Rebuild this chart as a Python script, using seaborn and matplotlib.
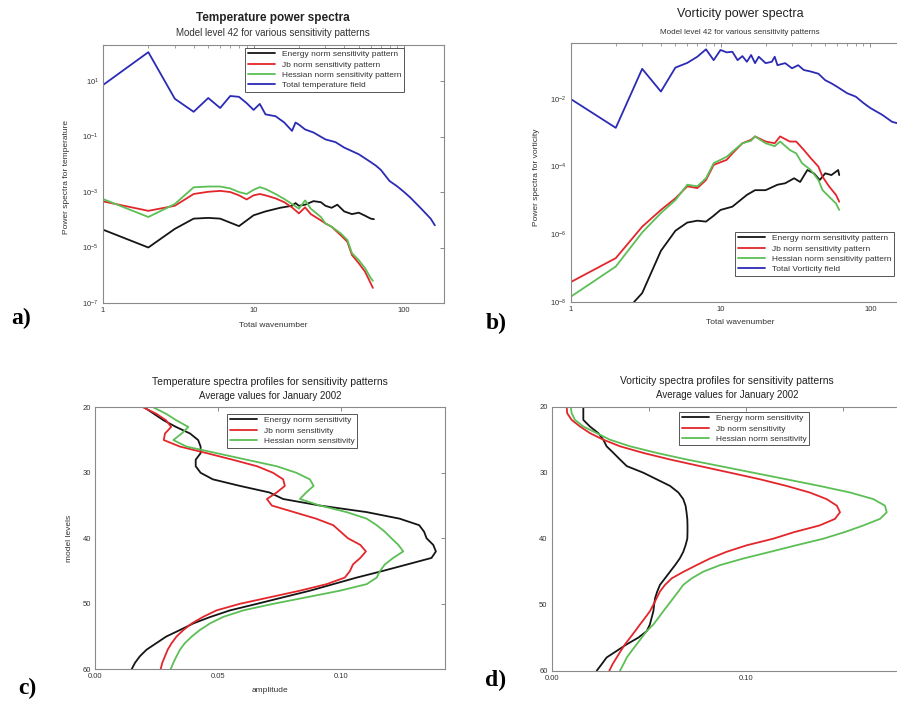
import matplotlib
matplotlib.use("Agg")
import matplotlib.pyplot as plt
import pandas as pd
import seaborn as sns
from matplotlib.ticker import FixedLocator, FixedFormatter, NullLocator, NullFormatter, LogLocator

# ---------------- data ----------------
series_spec = ["Energy norm sensitivity pattern", "Jb norm sensitivity pattern",
               "Hessian norm sensitivity pattern"]
series_prof = ["Energy norm sensitivity", "Jb norm sensitivity", "Hessian norm sensitivity"]
total_a_label = "Total temperature field"
total_b_label = "Total Vorticity field"

# (a) Temperature power spectra, model level 42
a_total_wn = [1, 2, 3, 4, 5, 6, 7, 8, 9, 10, 11, 12, 14, 16, 18, 19, 20, 22, 25, 30, 35, 40,
              50, 60, 65, 70, 80, 90, 100, 110, 130, 150, 160]
a_total = [7.2, 110, 2.3, 0.78, 2.45, 1.07, 2.9, 2.7, 1.6, 0.91, 1.5, 0.63, 0.54, 0.32, 0.16,
           0.32, 0.27, 0.18, 0.14, 0.079, 0.063, 0.040, 0.023, 0.012, 0.0089, 0.0063, 0.0025,
           0.0016, 0.0010, 6.3e-4, 2.5e-4, 1.1e-4, 6.3e-5]
a_energy_wn = [1, 2, 3, 4, 5, 6, 8, 10, 12, 15, 18, 19, 20, 22, 25, 28, 30, 33, 36, 40, 45, 50,
               55, 60, 63]
a_energy = [4.4e-5, 1.0e-5, 4.7e-5, 1.1e-4, 1.17e-4, 1.1e-4, 5.9e-5, 1.45e-4, 2.0e-4, 2.7e-4,
            3.2e-4, 4.0e-4, 3.2e-4, 3.5e-4, 4.7e-4, 4.3e-4, 3.2e-4, 2.7e-4, 3.5e-4, 2.0e-4,
            1.6e-4, 1.8e-4, 1.4e-4, 1.1e-4, 1.05e-4]
a_jb_wn = [1, 2, 3, 4, 5, 6, 7, 8, 9, 10, 11, 12, 14, 16, 18, 20, 22, 24, 28, 30, 33, 38, 42,
           45, 50, 55, 60, 62]
a_jb = [4.6e-4, 2.1e-4, 3.2e-4, 8.5e-4, 1.02e-3, 1.1e-3, 1.0e-3, 7.6e-4, 5.4e-4, 7.6e-4,
        8.5e-4, 7.6e-4, 5.9e-4, 4.3e-4, 2.8e-4, 1.7e-4, 2.8e-4, 1.6e-4, 9.5e-5, 7.4e-5,
        5.6e-5, 2.75e-5, 1.6e-5, 5.4e-6, 2.7e-6, 1.35e-6, 5.1e-7, 3.5e-7]
a_hess_wn = a_jb_wn
a_hess = [5.6e-4, 1.26e-4, 3.7e-4, 1.48e-3, 1.58e-3, 1.58e-3, 1.35e-3, 1.0e-3, 8.5e-4, 1.2e-3,
          1.5e-3, 1.29e-3, 8.5e-4, 5.6e-4, 3.7e-4, 2.5e-4, 5.0e-4, 2.5e-4, 1.26e-4, 7.4e-5,
          5.6e-5, 3.2e-5, 1.86e-5, 6.3e-6, 3.5e-6, 1.8e-6, 7.9e-7, 6.3e-7]

# (b) Vorticity power spectra, model level 42
b_total_wn = [1, 2, 3, 4, 5, 6, 7, 8, 9, 10, 11, 12, 13, 14, 15, 16, 17, 18, 20, 22, 23, 24,
              27, 30, 33, 36, 40, 45, 50, 55, 60, 70, 80, 90, 100, 120, 140, 160]
b_total = [1.0e-2, 1.4e-3, 7.8e-2, 1.66e-2, 8.5e-2, 0.117, 0.178, 0.295, 0.141, 0.282, 0.24,
           0.25, 0.141, 0.186, 0.126, 0.2, 0.115, 0.178, 0.115, 0.126, 0.178, 0.1, 0.115,
           0.081, 0.1, 0.072, 0.065, 0.056, 0.036, 0.029, 0.023, 0.0148, 0.0117, 0.0076,
           0.0054, 0.0034, 0.0021, 0.0018]
b_energy_wn = [2, 3, 4, 5, 6, 7, 8, 9, 10, 12, 15, 17, 20, 24, 27, 31, 34, 38, 42, 46, 50, 55,
               61, 62]
b_energy = [2.5e-9, 1.8e-8, 3.2e-7, 1.26e-6, 2.2e-6, 2.5e-6, 2.35e-6, 3.5e-6, 5.2e-6, 6.5e-6,
            1.45e-5, 2.0e-5, 2.0e-5, 2.9e-5, 3.2e-5, 4.5e-5, 3.5e-5, 7.9e-5, 6.3e-5, 4.0e-5,
            6.3e-5, 5.6e-5, 7.9e-5, 5.6e-5]
b_jb_wn = [1, 2, 3, 4, 5, 6, 7, 8, 9, 11, 12, 14, 16, 17, 18, 20, 23, 25, 29, 32, 36, 40, 45,
           48, 53, 59, 62]
b_jb = [3.8e-8, 1.95e-7, 1.66e-6, 5.2e-6, 1.15e-5, 2.6e-5, 2.3e-5, 4.0e-5, 1.12e-4, 1.58e-4,
        2.45e-4, 4.9e-4, 6.2e-4, 7.8e-4, 6.9e-4, 5.5e-4, 4.9e-4, 7.8e-4, 5.5e-4, 5.5e-4,
        3.1e-4, 1.78e-4, 1.0e-4, 5.0e-5, 2.6e-5, 1.45e-5, 9.1e-6]
b_hess_wn = [1, 2, 3, 4, 5, 6, 7, 8, 9, 11, 12, 14, 16, 17, 18, 20, 23, 25, 29, 32, 35, 40, 45,
             48, 53, 59, 62]
b_hess = [1.4e-8, 1.1e-7, 1.12e-6, 4.2e-6, 1.02e-5, 2.9e-5, 2.6e-5, 4.5e-5, 1.26e-4, 1.95e-4,
          2.75e-4, 4.9e-4, 5.8e-4, 7.8e-4, 6.6e-4, 4.9e-4, 4.0e-4, 5.5e-4, 3.1e-4, 2.45e-4,
          1.26e-4, 7.9e-5, 4.0e-5, 2.0e-5, 1.29e-5, 8.1e-6, 5.2e-6]

# model levels 20..60 for the profile panels
levels = list(range(20, 61))
# (c) Temperature spectra profiles
c_energy = [0.020, 0.024, 0.028, 0.033, 0.0387, 0.042, 0.043, 0.043, 0.041, 0.041, 0.043, 0.048,
            0.059, 0.071, 0.0766, 0.0916, 0.1106, 0.124, 0.132, 0.134, 0.135, 0.1377, 0.1388,
            0.137, 0.127, 0.117, 0.1065, 0.097, 0.0875, 0.0767, 0.066, 0.055, 0.047, 0.040,
            0.0346, 0.029, 0.025, 0.021, 0.0183, 0.0163, 0.0149]
c_jb = [0.0196, 0.025, 0.029, 0.031, 0.0285, 0.028, 0.0346, 0.0455, 0.056, 0.066, 0.0725,
        0.0766, 0.0773, 0.074, 0.070, 0.072, 0.081, 0.090, 0.097, 0.100, 0.103, 0.108, 0.1103,
        0.108, 0.105, 0.1038, 0.1017, 0.0943, 0.0834, 0.0712, 0.059, 0.0495, 0.044, 0.0394,
        0.036, 0.0332, 0.0312, 0.0296, 0.0285, 0.0274, 0.0267]
c_hess = [0.0237, 0.029, 0.0332, 0.038, 0.0353, 0.0319, 0.0373, 0.0495, 0.0617, 0.074, 0.082,
          0.0875, 0.089, 0.086, 0.0834, 0.0916, 0.1024, 0.1106, 0.1147, 0.118, 0.1207, 0.1235,
          0.1255, 0.1214, 0.118, 0.116, 0.1147, 0.1106, 0.0997, 0.0862, 0.0726, 0.0604,
          0.0522, 0.0468, 0.0427, 0.0394, 0.0366, 0.0346, 0.0332, 0.0319, 0.0308]
# (d) Vorticity spectra profiles
d_energy = [0.0163, 0.0163, 0.0163, 0.0197, 0.024, 0.0266, 0.0283, 0.0318, 0.0352, 0.0387,
            0.0472, 0.0541, 0.061, 0.0653, 0.0678, 0.069, 0.0695, 0.0699, 0.070, 0.070, 0.0699,
            0.069, 0.0678, 0.066, 0.0636, 0.061, 0.0584, 0.0558, 0.0544, 0.0533, 0.0528,
            0.0524, 0.0515, 0.0506, 0.049, 0.0446, 0.0387, 0.0335, 0.0283, 0.0258, 0.0232]
d_jb = [0.0077, 0.008, 0.0103, 0.0146, 0.0197, 0.0266, 0.0352, 0.0472, 0.061, 0.0764, 0.092,
        0.1074, 0.121, 0.133, 0.1417, 0.147, 0.1486, 0.146, 0.138, 0.125, 0.1142, 0.1005,
        0.090, 0.0816, 0.0747, 0.068, 0.0619, 0.0584, 0.0558, 0.0541, 0.0524, 0.0506, 0.0481,
        0.0455, 0.043, 0.0404, 0.0378, 0.0356, 0.0335, 0.0314, 0.0297]
d_hess = [0.0098, 0.0103, 0.012, 0.0163, 0.0232, 0.030, 0.0404, 0.0541, 0.0696, 0.0868, 0.1039,
          0.121, 0.138, 0.1538, 0.1658, 0.1718, 0.1727, 0.1692, 0.1606, 0.151, 0.140, 0.126,
          0.1125, 0.0988, 0.0868, 0.0781, 0.0722, 0.0678, 0.0653, 0.0627, 0.0601, 0.0575,
          0.055, 0.0524, 0.049, 0.0464, 0.0438, 0.0412, 0.0387, 0.037, 0.0352]

colors = ["#151515", "#e3262b", "#5cbf55", "#2b2bb5"]

# ---------------- style ----------------
sns.set_theme(style="white")
plt.rcParams['font.family'] = ['Liberation Sans', 'DejaVu Sans']
plt.rcParams['axes.edgecolor'] = '#8a8a8a'
plt.rcParams['axes.linewidth'] = 0.8

W, H = 897, 702
fig = plt.figure(figsize=(W / 100, H / 100), dpi=100)
fig.patch.set_facecolor('white')


def ax_at(l, t, r, b):
    return fig.add_axes([l / W, 1 - b / H, (r - l) / W, (b - t) / H])


def ftext(x, y, s, **kw):
    fig.text(x / W, 1 - y / H, s, ha='center', va='center', **kw)


def style_ticks(ax):
    ax.tick_params(which='both', direction='in', top=True, right=True,
                   colors='#777777', labelcolor='#333333', labelsize=5.5, pad=3)
    ax.tick_params(which='major', length=3, width=0.6)
    ax.tick_params(which='minor', length=1.8, width=0.5)


def frame(names, xs, ys):
    rows = []
    for n, xv, yv in zip(names, xs, ys):
        for a, b in zip(xv, yv):
            rows.append({'x': a, 'y': b, 'series': n})
    return pd.DataFrame(rows)


def legend(ax, anchor):
    h, l = ax.get_legend_handles_labels()
    for hh in h:
        hh.set_linewidth(1.3)
    leg = ax.legend(h, l, loc='upper left', bbox_to_anchor=anchor, borderaxespad=0,
                    fontsize=6, handlelength=3.3, handletextpad=0.8, labelspacing=0.3,
                    borderpad=0.3, frameon=True, fancybox=False, framealpha=1,
                    edgecolor='#555555')
    leg.get_frame().set_linewidth(0.7)
    for t in leg.get_texts():
        t.set_color('#333333')


def spectra_axes(ax, xmax, ylim, yticks):
    ax.set_xscale('log')
    ax.set_yscale('log')
    ax.set_xlim(1, xmax)
    ax.set_ylim(*ylim)
    ax.xaxis.set_major_locator(FixedLocator([1, 10, 100]))
    ax.xaxis.set_major_formatter(FixedFormatter(['1', '10', '100']))
    ax.xaxis.set_minor_locator(LogLocator(base=10, subs=range(2, 10), numticks=20))
    ax.xaxis.set_minor_formatter(NullFormatter())
    ax.yaxis.set_major_locator(FixedLocator(yticks))
    ax.yaxis.set_minor_locator(NullLocator())
    style_ticks(ax)
    ax.set_xlabel('')
    ax.set_ylabel('')


# ---------------- panel a ----------------
axa = ax_at(103, 45, 444, 303)
names_a = series_spec + [total_a_label]
dfa = frame(names_a, [a_energy_wn, a_jb_wn, a_hess_wn, a_total_wn],
            [a_energy, a_jb, a_hess, a_total])
sns.lineplot(data=dfa, x='x', y='y', hue='series', hue_order=names_a, palette=colors,
             sort=False, estimator=None, linewidth=1.3, ax=axa)
spectra_axes(axa, 184, (1e-7, 10 ** 2.3), [1e1, 1e-1, 1e-3, 1e-5, 1e-7])
legend(axa, ((245 - 103) / 341, 1 - (48 - 45) / 258))
ftext(273, 18, 'Temperature power spectra', fontsize=8.5, fontweight='bold', color='#222222')
ftext(273, 33, 'Model level 42 for various sensitivity patterns', fontsize=7, color='#333333')
ftext(273, 325, 'Total wavenumber', fontsize=6, color='#333333')
ftext(67, 177, 'Power spectra for temperature', fontsize=6, color='#333333', rotation=90)

# ---------------- panel b ----------------
axb = ax_at(570.7, 43, 910, 301.7)
names_b = series_spec + [total_b_label]
dfb = frame(names_b, [b_energy_wn, b_jb_wn, b_hess_wn, b_total_wn],
            [b_energy, b_jb, b_hess, b_total])
sns.lineplot(data=dfb, x='x', y='y', hue='series', hue_order=names_b, palette=colors,
             sort=False, estimator=None, linewidth=1.3, ax=axb)
spectra_axes(axb, 184, (1e-8, 10 ** -0.343), [1e-2, 1e-4, 1e-6, 1e-8])
legend(axb, ((735 - 570.7) / 339.3, 1 - (232 - 43) / 258.7))
ftext(740, 14, 'Vorticity power spectra', fontsize=9, color='#222222')
ftext(740, 33, 'Model level 42 for various sensitivity patterns', fontsize=5.8, color='#333333')
ftext(740, 323, 'Total wavenumber', fontsize=6, color='#333333')
ftext(536, 177, 'Power spectra for vorticity', fontsize=6, color='#333333', rotation=90)


# ---------------- profile panels ----------------
def profile_axes(ax, xmax, xticks, xlabels):
    ax.set_xlim(0, xmax)
    ax.set_ylim(60, 20)
    ax.xaxis.set_major_locator(FixedLocator(xticks))
    ax.xaxis.set_major_formatter(FixedFormatter(xlabels))
    ax.yaxis.set_major_locator(FixedLocator([20, 30, 40, 50, 60]))
    ax.yaxis.set_major_formatter(FixedFormatter(['20', '30', '40', '50', '60']))
    style_ticks(ax)
    ax.set_xlabel('')
    ax.set_ylabel('')


axc = ax_at(95, 407.3, 445, 669.3)
dfc = frame(series_prof, [c_energy, c_jb, c_hess], [levels, levels, levels])
sns.lineplot(data=dfc, x='x', y='y', hue='series', hue_order=series_prof, palette=colors[:3],
             sort=False, estimator=None, linewidth=1.3, ax=axc)
profile_axes(axc, 0.1425, [0, 0.05, 0.10], ['0.00', '0.05', '0.10'])
legend(axc, ((227 - 95) / 350, 1 - (414 - 407.3) / 262))
ftext(270, 382, 'Temperature spectra profiles for sensitivity patterns', fontsize=7.5, color='#222222')
ftext(270, 396, 'Average values for January 2002', fontsize=7, color='#222222')
ftext(270, 690, 'amplitude', fontsize=6, color='#333333')
ftext(69, 538, 'model levels', fontsize=6, color='#333333', rotation=90)

axd = ax_at(551.7, 406.7, 900.9, 670.7)
dfd = frame(series_prof, [d_energy, d_jb, d_hess], [levels, levels, levels])
sns.lineplot(data=dfd, x='x', y='y', hue='series', hue_order=series_prof, palette=colors[:3],
             sort=False, estimator=None, linewidth=1.3, ax=axd)
profile_axes(axd, 0.18, [0, 0.05, 0.10, 0.15], ['0.00', '', '0.10', ''])
legend(axd, ((679 - 551.7) / 349.2, 1 - (412 - 406.7) / 264))
ftext(727, 381, 'Vorticity spectra profiles for sensitivity patterns', fontsize=7.5, color='#222222')
ftext(727, 395, 'Average values for January 2002', fontsize=7, color='#222222')

# panel letters
for (px, py, s) in [(21, 318, 'a)'), (496, 323, 'b)'), (27, 688, 'c)'), (496, 680, 'd)')]:
    ftext(px, py, s, fontsize=17, fontweight='bold', family='Liberation Serif', color='black')

fig.savefig('out.png', dpi=100)
